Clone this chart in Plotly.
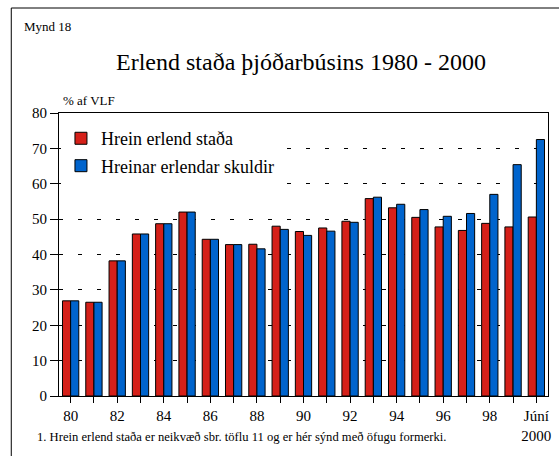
import plotly.graph_objects as go

# Ár (flokkar á x-ás)
ar = ["80", "81", "82", "83", "84", "85", "86", "87", "88", "89",
      "90", "91", "92", "93", "94", "95", "96", "97", "98", "99", "Júní 2000"]
ar_merki = ["80", "", "82", "", "84", "", "86", "", "88", "",
            "90", "", "92", "", "94", "", "96", "", "98", "", "Júní<br>2000"]

# % af VLF
hrein_erlend_stada = [26.9, 26.5, 38.2, 45.8, 48.7, 52.0, 44.3, 42.8, 42.9, 48.0,
                      46.5, 47.5, 49.4, 55.8, 53.2, 50.5, 47.8, 46.8, 48.8, 47.8, 50.6]
hreinar_erlendar_skuldir = [26.9, 26.5, 38.2, 45.8, 48.7, 52.0, 44.3, 42.8, 41.6, 47.1,
                            45.4, 46.6, 49.1, 56.2, 54.2, 52.7, 50.8, 51.6, 57.0, 65.4, 72.5]

rautt = "#D52019"
blatt = "#0064CD"
letur = "'Liberation Serif', 'Times New Roman', Times, serif"

fig = go.Figure()
fig.add_trace(go.Bar(x=ar, y=hrein_erlend_stada, name="Hrein erlend staða", legendgroup="a",
                     marker=dict(color=rautt, line=dict(color="black", width=1))))
fig.add_trace(go.Bar(x=ar, y=hreinar_erlendar_skuldir, name="Hreinar erlendar skuldir",
                     legendgroup="b",
                     marker=dict(color=blatt, line=dict(color="black", width=1))))

fig.update_layout(
    width=559, height=456,
    margin=dict(l=59, r=8, t=113, b=60),
    paper_bgcolor="white", plot_bgcolor="white",
    font=dict(family=letur, color="black", size=15),
    barmode="group", bargap=0.3, bargroupgap=0,
    showlegend=True,
    legend=dict(x=0.004, y=0.975, xanchor="left", yanchor="top",
                font=dict(size=18, family=letur), bgcolor="white",
                tracegroupgap=1, itemwidth=30),
)

fig.update_xaxes(
    type="category", tickvals=ar, ticktext=ar_merki,
    showline=True, linecolor="black", linewidth=1, mirror=True,
    ticks="outside", ticklen=6, tickcolor="black",
    showgrid=False, tickfont=dict(size=15),
)
fig.update_yaxes(
    range=[0, 80], dtick=10,
    showline=True, linecolor="black", linewidth=1, mirror=True,
    ticks="outside", ticklen=8, tickcolor="black",
    showgrid=True, gridcolor="black", gridwidth=1, griddash="4px,15px",
    zeroline=False, tickfont=dict(size=15),
)

# Rammi utan um myndina
fig.add_shape(type="rect", xref="paper", yref="paper",
              x0=-0.0976, y0=-0.4, x1=1.2, y1=1.371,
              line=dict(color="black", width=1), fillcolor="rgba(0,0,0,0)", layer="below")

fig.add_annotation(text="Mynd 18", xref="paper", yref="paper", x=-0.076, y=1.305,
                   xanchor="left", yanchor="middle", showarrow=False,
                   font=dict(size=13, family=letur))
fig.add_annotation(text="Erlend staða þjóðarbúsins 1980 - 2000", xref="paper", yref="paper",
                   x=0.495, y=1.18, xanchor="center", yanchor="middle", showarrow=False,
                   font=dict(size=24, family=letur))
fig.add_annotation(text="% af VLF", xref="paper", yref="paper", x=0.005, y=1.045,
                   xanchor="left", yanchor="middle", showarrow=False,
                   font=dict(size=13, family=letur))
fig.add_annotation(text="1. Hrein erlend staða er neikvæð sbr. töflu 11 og er hér sýnd með öfugu formerki.",
                   xref="paper", yref="paper", x=-0.0488, y=-0.145,
                   xanchor="left", yanchor="middle", showarrow=False,
                   font=dict(size=12.6, family=letur))

fig.write_html("out.html", config={"displayModeBar": False},
               post_script="document.body.style.margin='0';document.body.style.overflow='hidden';")
